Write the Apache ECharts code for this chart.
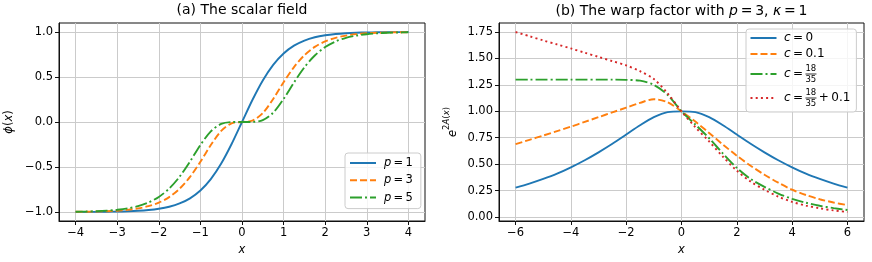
<!DOCTYPE html>
<html><head><meta charset="utf-8">
<script src="https://cdn.jsdelivr.net/npm/echarts@6/dist/echarts.min.js"></script>
<style>html,body{margin:0;padding:0;background:#fff}#c{width:872px;height:262px}</style>
</head><body><div id="c"></div>
<script>
// ---- data: panel (a) ----
const xA = [-4,-3.75,-3.5,-3.25,-3,-2.75,-2.5,-2.25,-2,-1.75,-1.5,-1.25,-1,-0.75,-0.5,-0.25,0,0.25,0.5,0.75,1,1.25,1.5,1.75,2,2.25,2.5,2.75,3,3.25,3.5,3.75,4];
const phiP1 = [-0.9993,-0.9989,-0.9982,-0.9970,-0.9951,-0.9919,-0.9866,-0.9780,-0.9640,-0.9414,-0.9051,-0.8483,-0.7616,-0.6351,-0.4621,-0.2449,0,0.2449,0.4621,0.6351,0.7616,0.8483,0.9051,0.9414,0.9640,0.9780,0.9866,0.9919,0.9951,0.9970,0.9982,0.9989,0.9993];
const phiP3 = [-0.9979,-0.9967,-0.9946,-0.9910,-0.9854,-0.9759,-0.9603,-0.9355,-0.8959,-0.8343,-0.7415,-0.6104,-0.4418,-0.2562,-0.0987,-0.0147,0,0.0147,0.0987,0.2562,0.4418,0.6104,0.7415,0.8343,0.8959,0.9355,0.9603,0.9759,0.9854,0.9910,0.9946,0.9967,0.9979];
const phiP5 = [-0.9965,-0.9945,-0.9910,-0.9851,-0.9757,-0.9601,-0.9348,-0.8948,-0.8325,-0.7393,-0.6075,-0.4393,-0.2562,-0.1033,-0.0211,-0.0009,0,0.0009,0.0211,0.1033,0.2562,0.4393,0.6075,0.7393,0.8325,0.8948,0.9348,0.9601,0.9757,0.9851,0.9910,0.9945,0.9965];
// ---- data: panel (b) ----
const xB = [-6,-5.5,-5,-4.5,-4,-3.5,-3,-2.5,-2,-1.5,-1,-0.5,0,0.5,1,1.5,2,2.5,3,3.5,4,4.5,5,5.5,6];
const warpC0 = [0.278,0.316,0.360,0.410,0.470,0.537,0.612,0.693,0.780,0.868,0.945,0.993,1.0,0.993,0.945,0.868,0.780,0.693,0.612,0.537,0.470,0.410,0.360,0.316,0.278];
const warpC01 = [0.689,0.730,0.771,0.813,0.855,0.900,0.945,0.990,1.035,1.080,1.115,1.085,1.0,0.903,0.795,0.685,0.580,0.485,0.400,0.325,0.258,0.208,0.168,0.137,0.112];
const warpC1835 = [1.300,1.300,1.300,1.300,1.300,1.300,1.300,1.300,1.298,1.290,1.250,1.155,1.0,0.875,0.745,0.600,0.465,0.360,0.285,0.222,0.172,0.135,0.106,0.084,0.066];
const warpC1835p = [1.751,1.711,1.671,1.633,1.595,1.555,1.515,1.475,1.435,1.380,1.305,1.170,1.0,0.850,0.715,0.570,0.438,0.335,0.258,0.193,0.143,0.108,0.082,0.062,0.047];
// ---- tick labels ----
const xTicksA = [-4,-3,-2,-1,0,1,2,3,4];
const yTicksA = [-1,-0.5,0,0.5,1];
const xTicksB = [-6,-4,-2,0,2,4,6];
const yTicksB = [0,0.25,0.5,0.75,1,1.25,1.5,1.75];

const FONT = 'DejaVu Sans';
const BLUE='#1f77b4', ORANGE='#ff7f0e', GREEN='#2ca02c', RED='#d62728';
const LW = 1.9;
const DASHED=[7,3], DASHDOT=[12,3,2,3], DOTTED=[2,3.2];
const minus = s => s.replace('-', '\u2212');
const TS = 11.5;

function mkRich(fs, lh){
  return {
    i:{fontFamily:FONT,fontStyle:'italic',fontSize:fs,color:'#000',lineHeight:lh},
    n:{fontFamily:FONT,fontSize:fs,color:'#000',lineHeight:lh}
  };
}

function xAxisCfg(grid, min, max, ticks, fmt){
  return {
    type:'value', gridIndex:grid, min:min, max:max,
    axisLine:{show:true,onZero:false,lineStyle:{color:'#111',width:1}},
    axisTick:{show:true,length:4,customValues:ticks,lineStyle:{color:'#111',width:1}},
    axisLabel:{customValues:ticks,formatter:fmt,margin:6,color:'#000',fontFamily:FONT,fontSize:TS},
    splitLine:{show:true,lineStyle:{color:'#cbcbcb',width:1}},
    name:'{i|x}', nameLocation:'middle', nameGap:21,
    nameTextStyle:{rich:mkRich(TS,14)}
  };
}
function yAxisCfg(grid, min, max, ticks, fmt, name, gap, rich){
  return {
    type:'value', gridIndex:grid, min:min, max:max,
    axisLine:{show:true,onZero:false,lineStyle:{color:'#111',width:1}},
    axisTick:{show:true,length:4,customValues:ticks,lineStyle:{color:'#111',width:1}},
    axisLabel:{customValues:ticks,formatter:fmt,margin:6,color:'#000',fontFamily:FONT,fontSize:TS},
    splitLine:{show:true,lineStyle:{color:'#cbcbcb',width:1}},
    name:name, nameLocation:'middle', nameGap:gap, nameRotate:90,
    nameTextStyle:{rich:rich}
  };
}

function line(name, xi, xs, ys, color, dash){
  return {
    type:'line', name:name, xAxisIndex:xi, yAxisIndex:xi,
    data: xs.map((x,k)=>[x, ys[k]]),
    symbol:'none', smooth:0.3, animation:false,
    lineStyle:{color:color,width:LW,type:dash,cap:'butt'},
    itemStyle:{color:color}
  };
}

const legA = {p1:'{i|p}{n|\u2009=\u20091}', p3:'{i|p}{n|\u2009=\u20093}', p5:'{i|p}{n|\u2009=\u20095}'};
const legB = {
  c0:'{i|c}{n|\u2009=\u20090}',
  c01:'{i|c}{n|\u2009=\u20090.1}',
  c1835:'{I|c}{N|\u2009=\u2009}{fn|18}{fd|35}{fb|}',
  c1835p:'{I|c}{N|\u2009=\u2009}{fn|18}{fd|35}{fb|}{N|\u2009+\u20090.1}'
};
const richB = Object.assign(mkRich(12,14), {
  I:{fontFamily:FONT,fontStyle:'italic',fontSize:12,color:'#000',lineHeight:20},
  N:{fontFamily:FONT,fontSize:12,color:'#000',lineHeight:20},
  fn:{fontFamily:FONT,fontSize:8.5,color:'#000',lineHeight:9.5,verticalAlign:'top',width:0.001,align:'left'},
  fd:{fontFamily:FONT,fontSize:8.5,color:'#000',lineHeight:9.5,verticalAlign:'bottom',width:0.001,align:'left'},
  fb:{width:11,height:0.8,backgroundColor:'#000',verticalAlign:'middle'}
});

const supRich = {
  e:{fontFamily:FONT,fontStyle:'italic',fontSize:TS,color:'#000',lineHeight:17,verticalAlign:'bottom'},
  s:{fontFamily:FONT,fontSize:8.5,color:'#000',lineHeight:10,verticalAlign:'top'},
  si:{fontFamily:FONT,fontStyle:'italic',fontSize:8.5,color:'#000',lineHeight:10,verticalAlign:'top'}
};

const legendCommon = {
  orient:'vertical', itemWidth:26, itemHeight:12, selectedMode:false,
  backgroundColor:'rgba(255,255,255,0.8)', borderColor:'#cccccc', borderWidth:1, borderRadius:3,
  itemStyle:{opacity:0, borderWidth:0}
};

const option = {
  animation:false,
  backgroundColor:'#fff',
  title:[
    {text:'(a) The scalar field', left:242, top:3, textAlign:'center', padding:0,
     textStyle:{fontFamily:FONT,fontSize:14,fontWeight:'normal',color:'#000'}},
    {text:'{n|(b) The warp factor with }{i|p}{n|\u2009=\u20093, }{i|\u03ba}{n|\u2009=\u20091}', left:681.5, top:3, textAlign:'center', padding:0,
     textStyle:{fontFamily:FONT,fontSize:14,fontWeight:'normal',color:'#000',rich:mkRich(14,17)}}
  ],
  grid:[
    {left:59, top:23, width:366, height:198, show:true, borderColor:'#111', borderWidth:1, backgroundColor:'transparent'},
    {left:499, top:23, width:365, height:198, show:true, borderColor:'#111', borderWidth:1, backgroundColor:'transparent'}
  ],
  xAxis:[
    xAxisCfg(0,-4.4,4.4,xTicksA, v=>minus(String(v))),
    xAxisCfg(1,-6.6,6.6,xTicksB, v=>minus(String(v)))
  ],
  yAxis:[
    yAxisCfg(0,-1.1,1.1,yTicksA, v=>minus(v.toFixed(1)), '{i|\u03d5}{n|(}{i|x}{n|)}', 43, mkRich(TS,14)),
    yAxisCfg(1,-0.038,1.836,yTicksB, v=>minus(v.toFixed(2)), '{e|e}{s|2}{si|A}{s|(}{si|x}{s|)}', 40, supRich)
  ],
  legend:[
    Object.assign({data:['p1','p3','p5'], left:345, top:153, padding:[4,8,5,4], itemGap:5.3,
     formatter:n=>legA[n], textStyle:{padding:[0,0,0,3],rich:mkRich(TS,14)}}, legendCommon),
    Object.assign({data:['c0','c01','c1835','c1835p'], left:746, top:29, padding:[3,6,4,3.5], itemGap:4,
     formatter:n=>legB[n], textStyle:{padding:[0,0,0,2.5],rich:richB}}, legendCommon)
  ],
  series:[
    line('p1',0,xA,phiP1,BLUE,'solid'),
    line('p3',0,xA,phiP3,ORANGE,DASHED),
    line('p5',0,xA,phiP5,GREEN,DASHDOT),
    line('c0',1,xB,warpC0,BLUE,'solid'),
    line('c01',1,xB,warpC01,ORANGE,DASHED),
    line('c1835',1,xB,warpC1835,GREEN,DASHDOT),
    line('c1835p',1,xB,warpC1835p,RED,DOTTED)
  ]
};
const chart = echarts.init(document.getElementById('c'));
chart.setOption(option);
</script>
</body></html>
